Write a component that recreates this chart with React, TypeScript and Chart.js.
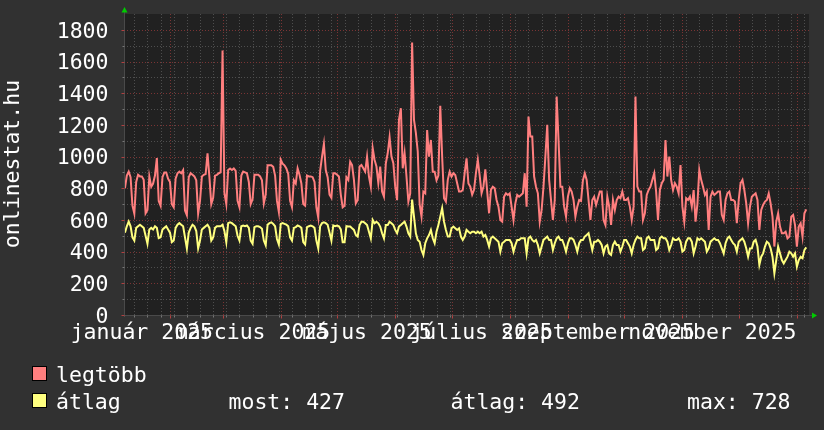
import React, { useEffect, useRef } from "react";
import { Chart, registerables } from "chart.js";

Chart.register(...registerables);

// Day index (0 = 2025-01-01) of the first plotted point; one point per day.
const START_DAY = 7;

// "legtöbb" series, one row per week
const legtobb: number[] = [
  800, 880, 905, 870, 690, 640, 840,
  885, 875, 875, 853, 642, 663, 875,
  810, 830, 880, 990, 720, 690, 870,
  900, 900, 860, 840, 700, 680, 860,
  895, 905, 895, 915, 660, 630, 870,
  895, 885, 875, 850, 640, 720, 875,
  885, 890, 1020, 870, 700, 740, 880,
  885, 895, 900, 1670, 770, 700, 915,
  925, 915, 925, 910, 720, 680, 880,
  905, 900, 895, 840, 700, 730, 885,
  885, 885, 875, 850, 705, 760, 945,
  945, 945, 935, 880, 720, 650, 980,
  955, 945, 925, 890, 720, 680, 850,
  830, 925, 885, 830, 700, 690, 880,
  875, 875, 870, 840, 680, 615, 910,
  1000, 1080, 915, 870, 760, 740, 895,
  895, 885, 875, 760, 680, 690, 870,
  853, 968, 947, 853, 705, 726, 937,
  947, 926, 905, 1000, 874, 810, 1053,
  979, 937, 832, 937, 779, 747, 958,
  1021, 1122, 1000, 958, 810, 726, 1232,
  1305, 926, 1021, 874, 716, 768, 1720,
  1232, 1150, 1032, 700, 621, 779, 768,
  1168, 1000, 1105, 905, 905, 850, 880,
  1320, 1000, 737, 716, 853, 905, 874,
  895, 884, 832, 779, 779, 789, 895,
  989, 830, 810, 760, 790, 895, 980,
  880, 768, 810, 920, 780, 642, 790,
  810, 800, 726, 684, 600, 589, 747,
  768, 758, 768, 684, 600, 705, 758,
  747, 758, 768, 895, 684, 1253, 1126,
  1126, 874, 810, 768, 589, 663, 810,
  1000, 1200, 853, 726, 600, 726, 1379,
  1105, 810, 810, 684, 621, 747, 800,
  779, 726, 621, 684, 726, 720, 850,
  895, 853, 726, 600, 726, 747, 695,
  737, 779, 779, 600, 568, 747, 684,
  568, 726, 663, 726, 747, 737, 779,
  726, 726, 737, 684, 600, 684, 1379,
  810, 779, 779, 600, 642, 758, 789,
  810, 853, 895, 779, 600, 789, 832,
  853, 1105, 874, 1000, 853, 789, 832,
  810, 768, 947, 684, 589, 737, 726,
  747, 684, 789, 589, 700, 916, 853,
  810, 758, 779, 537, 747, 779, 758,
  768, 779, 779, 632, 600, 726, 768,
  779, 726, 726, 716, 579, 726, 832,
  853, 789, 705, 579, 684, 747, 758,
  768, 726, 537, 663, 695, 716, 726,
  768, 705, 621, 432, 589, 642, 558,
  516, 516, 526, 484, 495, 621, 632,
  568, 432, 558, 579, 495, 642, 667,
];

// "átlag" series, one row per week
const atlag: number[] = [
  520, 560, 590, 560, 490, 470, 550,
  560, 570, 560, 550, 500, 450, 540,
  550, 540, 560, 550, 485, 490, 540,
  550, 560, 540, 520, 460, 470, 550,
  570, 580, 570, 560, 490, 420, 520,
  550, 570, 560, 530, 420, 470, 540,
  550, 560, 570, 550, 470, 490, 550,
  560, 560, 560, 570, 530, 460, 580,
  585, 580, 570, 560, 500, 470, 560,
  565, 560, 565, 550, 470, 450, 555,
  560, 560, 555, 545, 470, 440, 570,
  580, 585, 575, 560, 480, 445, 575,
  580, 575, 570, 560, 490, 470, 550,
  555, 565, 560, 550, 460, 445, 555,
  560, 565, 560, 550, 470, 420, 560,
  580, 585, 580, 570, 520, 470, 565,
  560, 565, 560, 540, 460, 460, 560,
  558, 558, 547, 537, 505, 495, 568,
  589, 589, 579, 568, 526, 484, 600,
  579, 589, 579, 558, 516, 484, 568,
  568, 589, 579, 568, 537, 516, 558,
  568, 579, 589, 558, 516, 495, 728,
  621, 516, 474, 463, 410, 379, 453,
  484, 505, 537, 484, 453, 526, 568,
  621, 674, 589, 537, 495, 495, 547,
  558, 547, 537, 547, 495, 474, 495,
  537, 526, 516, 526, 526, 516, 526,
  516, 526, 495, 505, 474, 432, 484,
  495, 484, 474, 463, 400, 453, 463,
  474, 474, 474, 453, 400, 442, 474,
  474, 484, 484, 484, 389, 484, 495,
  474, 463, 474, 442, 389, 432, 474,
  484, 495, 474, 474, 410, 453, 484,
  495, 474, 474, 442, 400, 453, 484,
  484, 474, 442, 400, 453, 474, 474,
  495, 505, 516, 463, 410, 463, 463,
  474, 463, 442, 389, 432, 442, 389,
  379, 442, 463, 442, 442, 400, 432,
  474, 474, 453, 432, 389, 442, 474,
  495, 484, 484, 410, 421, 484, 495,
  474, 474, 474, 410, 421, 484, 495,
  484, 484, 463, 410, 442, 484, 474,
  474, 484, 463, 400, 410, 463, 484,
  484, 463, 389, 432, 484, 474, 484,
  474, 463, 400, 421, 463, 474, 484,
  474, 474, 453, 421, 389, 453, 484,
  495, 474, 453, 442, 400, 463, 474,
  484, 463, 421, 368, 420, 421, 463,
  474, 432, 316, 368, 389, 432, 463,
  453, 421, 368, 263, 347, 432, 389,
  347, 326, 347, 368, 400, 389, 368,
  389, 305, 347, 368, 358, 410, 427,
];

const yLabelValues = [0, 200, 400, 600, 800, 1000, 1200, 1400, 1600, 1800];
const yMinorValues = [100, 300, 500, 700, 900, 1100, 1300, 1500, 1700];
// month starts (day index) -> major vertical grid
const monthStartDays = [31, 59, 90, 120, 151, 181, 212, 243, 273, 304, 334, 365];
// x labels, centred on the middle of their month
const xLabels = ["január 2025", "március 2025", "május 2025", "július 2025", "szeptember 2025", "november 2025"];
const xLabelDays = [16, 75, 136, 197, 259, 320];

const legendNames = ["legtöbb", "átlag"];
const statLabels = ["most: 427", "átlag: 492", "max: 728"];
const titleText = "onlinestat.hu";

const X_MIN = 6.5;
const X_MAX = 371.45;
const Y_MAX = 1900;

const BG = "#313131";
const PLOT_BG = "#212121";
const MINOR = "#4e4e4e";
const MAJOR = "#7a3434";
const RED = "#ff7f7f";
const YELLOW = "#ffff7f";
const FONT = "21.5px 'DejaVu Sans Mono', monospace";

const weekDays: number[] = [];
for (let d = 12; d <= 371; d += 7) weekDays.push(d);

const rrdPlugin = {
  id: "rrdLook",
  beforeDraw(chart: any) {
    const { ctx, chartArea: a, scales } = chart;
    const x = scales.x;
    const y = scales.y;
    ctx.save();
    ctx.fillStyle = BG;
    ctx.fillRect(0, 0, chart.width, chart.height);
    ctx.fillStyle = PLOT_BG;
    ctx.fillRect(a.left, a.top, a.right - a.left, a.bottom - a.top);
    ctx.lineWidth = 1;
    ctx.setLineDash([1, 2]);
    ctx.strokeStyle = MINOR;
    for (const v of yMinorValues) {
      const py = Math.round(y.getPixelForValue(v)) + 0.5;
      ctx.beginPath(); ctx.moveTo(a.left, py); ctx.lineTo(a.right, py); ctx.stroke();
    }
    for (const d of weekDays) {
      if (d <= X_MIN || d >= X_MAX) continue;
      const px = Math.round(x.getPixelForValue(d)) + 0.5;
      ctx.beginPath(); ctx.moveTo(px, a.top); ctx.lineTo(px, a.bottom); ctx.stroke();
    }
    ctx.strokeStyle = MAJOR;
    for (const v of yLabelValues) {
      if (v === 0) continue;
      const py = Math.round(y.getPixelForValue(v)) + 0.5;
      ctx.beginPath(); ctx.moveTo(a.left, py); ctx.lineTo(a.right, py); ctx.stroke();
    }
    for (const d of monthStartDays) {
      const px = Math.round(x.getPixelForValue(d)) + 0.5;
      ctx.beginPath(); ctx.moveTo(px, a.top); ctx.lineTo(px, a.bottom); ctx.stroke();
    }
    ctx.setLineDash([]);
    ctx.restore();
  },
  afterDatasetsDraw(chart: any) {
    const { ctx, chartArea: a, scales } = chart;
    const x = scales.x;
    const y = scales.y;
    ctx.save();
    // axes
    ctx.strokeStyle = "#4a4a4a";
    ctx.lineWidth = 1;
    const by = Math.round(a.bottom) + 0.5;
    const lx = Math.round(a.left) + 0.5;
    ctx.beginPath(); ctx.moveTo(a.left - 2, by); ctx.lineTo(a.right + 4, by); ctx.stroke();
    ctx.beginPath(); ctx.moveTo(lx, a.bottom + 2); ctx.lineTo(lx, a.top - 4); ctx.stroke();
    // tick marks
    ctx.strokeStyle = "#777777";
    for (const d of weekDays) {
      if (d <= X_MIN || d >= X_MAX) continue;
      const px = Math.round(x.getPixelForValue(d)) + 0.5;
      ctx.beginPath(); ctx.moveTo(px, by); ctx.lineTo(px, by + 2); ctx.stroke();
    }
    for (const v of yMinorValues) {
      const py = Math.round(y.getPixelForValue(v)) + 0.5;
      ctx.beginPath(); ctx.moveTo(lx - 2, py); ctx.lineTo(lx, py); ctx.stroke();
    }
    ctx.strokeStyle = "#b04040";
    for (const d of monthStartDays) {
      const px = Math.round(x.getPixelForValue(d)) + 0.5;
      ctx.beginPath(); ctx.moveTo(px, by); ctx.lineTo(px, by + 3); ctx.stroke();
    }
    for (const v of yLabelValues) {
      const py = Math.round(y.getPixelForValue(v)) + 0.5;
      ctx.beginPath(); ctx.moveTo(lx - 3, py); ctx.lineTo(lx, py); ctx.stroke();
    }
    // arrows
    ctx.fillStyle = "#00cc00";
    ctx.beginPath();
    ctx.moveTo(lx, a.top - 7); ctx.lineTo(lx - 3, a.top - 1.5); ctx.lineTo(lx + 3, a.top - 1.5); ctx.closePath(); ctx.fill();
    ctx.beginPath();
    ctx.moveTo(a.right + 8, by); ctx.lineTo(a.right + 3, by - 3); ctx.lineTo(a.right + 3, by + 3); ctx.closePath(); ctx.fill();

    // texts
    ctx.fillStyle = "#ffffff";
    ctx.font = FONT;
    ctx.textBaseline = "alphabetic";
    ctx.textAlign = "right";
    for (const v of yLabelValues) {
      const py = y.getPixelForValue(v);
      ctx.fillText(String(v), 108.5, py + 7.7);
    }
    ctx.textAlign = "center";
    xLabels.forEach((t, i) => {
      ctx.fillText(t, x.getPixelForValue(xLabelDays[i]), 338.5);
    });
    // title
    ctx.save();
    ctx.translate(18.5, 164);
    ctx.rotate(-Math.PI / 2);
    ctx.textAlign = "center";
    ctx.fillText(titleText, 0, 0);
    ctx.restore();
    // legend
    const colors = [RED, YELLOW];
    const rowBase = [382, 409];
    ctx.textAlign = "left";
    legendNames.forEach((name, i) => {
      ctx.fillStyle = colors[i];
      ctx.fillRect(32, rowBase[i] - 16, 15, 15);
      ctx.strokeStyle = "#000000";
      ctx.lineWidth = 1;
      ctx.strokeRect(32.5, rowBase[i] - 15.5, 14, 14);
      ctx.fillStyle = "#ffffff";
      ctx.fillText(name, 56, rowBase[i]);
    });
    const statX = [228.5, 450.5, 687];
    statLabels.forEach((t, i) => ctx.fillText(t, statX[i], rowBase[1]));
    ctx.restore();
  },
};

export default function App() {
  const canvasRef = useRef<HTMLCanvasElement | null>(null);

  useEffect(() => {
    const canvas = canvasRef.current;
    if (!canvas) return;
    const redPts = legtobb.map((v, i) => ({ x: START_DAY + i, y: v }));
    const yelPts = atlag.map((v, i) => ({ x: START_DAY + i, y: v }));
    const chart = new Chart(canvas, {
      type: "line",
      data: {
        datasets: [
          { label: legendNames[0], data: redPts, borderColor: RED, borderWidth: 2, pointRadius: 0, tension: 0, fill: false, order: 1 },
          { label: legendNames[1], data: yelPts, borderColor: YELLOW, borderWidth: 2, pointRadius: 0, tension: 0, fill: false, order: 0 },
        ],
      },
      options: {
        animation: false,
        responsive: false,
        devicePixelRatio: 1,
        layout: { padding: { left: 124, right: 15, top: 14, bottom: 115 } },
        scales: {
          x: { type: "linear", min: X_MIN, max: X_MAX, display: false },
          y: { type: "linear", min: 0, max: Y_MAX, display: false },
        },
        plugins: { legend: { display: false }, tooltip: { enabled: false } },
        events: [],
      },
      plugins: [rrdPlugin],
    });
    return () => chart.destroy();
  }, []);

  return (
    <div style={{ position: "fixed", left: 0, top: 0, width: 824, height: 430, background: BG }}>
      <canvas ref={canvasRef} width={824} height={430} style={{ display: "block", width: 824, height: 430 }} />
    </div>
  );
}
